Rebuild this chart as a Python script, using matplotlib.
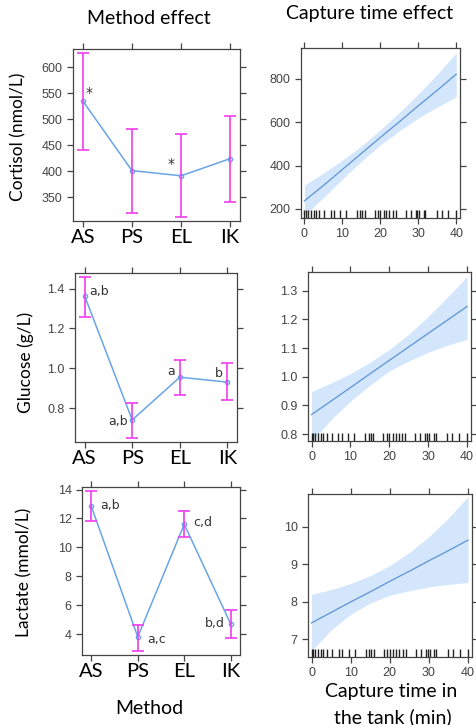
import numpy as np
import matplotlib
matplotlib.use("Agg")
import matplotlib.pyplot as plt

W, H = 476, 725

methods = ["AS", "PS", "EL", "IK"]

# method effect (estimate, upper, lower)
cort_mean = [535, 401, 391, 424]
cort_hi = [628, 481, 471, 507]
cort_lo = [441, 320, 312, 340]

gluc_mean = [1.365, 0.74, 0.955, 0.93]
gluc_hi = [1.46, 0.825, 1.04, 1.025]
gluc_lo = [1.26, 0.65, 0.865, 0.84]

lact_mean = [12.85, 3.8, 11.6, 4.7]
lact_hi = [13.9, 4.65, 12.5, 5.65]
lact_lo = [11.8, 2.8, 10.7, 3.75]

# capture time effect: fit and band read at time points
t_pts = [0, 5, 10, 15, 20, 25, 30, 35, 40]
cort_fit = [237, 308, 382, 456, 530, 602, 676, 748, 822]
cort_up = [310, 365, 425, 490, 565, 645, 730, 822, 920]
cort_dn = [172, 252, 338, 420, 495, 560, 620, 670, 718]

gluc_fit = [0.868, 0.915, 0.962, 1.01, 1.057, 1.104, 1.151, 1.198, 1.245]
gluc_up = [0.948, 0.978, 1.011, 1.05, 1.095, 1.148, 1.21, 1.278, 1.349]
gluc_dn = [0.775, 0.85, 0.915, 0.97, 1.02, 1.055, 1.085, 1.11, 1.13]

lact_fit = [7.44, 7.72, 8.0, 8.27, 8.55, 8.82, 9.1, 9.37, 9.65]
lact_up = [8.2, 8.33, 8.49, 8.7, 8.97, 9.32, 9.74, 10.24, 10.81]
lact_dn = [6.7, 7.25, 7.67, 7.97, 8.18, 8.3, 8.4, 8.47, 8.52]

# observed capture times (rug)
rug_t = [0, 0.5, 1, 1.7, 2.4, 3, 3.9, 5.2, 6.9, 7.9, 9.5, 11, 13.8, 14.7, 15.3,
         15.9, 18.5, 19.4, 20, 20.9, 21.6, 22.4, 23.3, 24.1, 26.7, 28, 29.3,
         29.7, 30.3, 31.4, 31.9, 34.9, 36.2, 37.9, 40]

fig = plt.figure(figsize=(W / 100, H / 100), dpi=100)

def box(l, r, t, b):
    return fig.add_axes([l / W, 1 - b / H, (r - l) / W, (b - t) / H])

def ftext(x, y, s, size=14, rot=0):
    fig.text(x / W, 1 - y / H, s, fontsize=size, family="Lato", rotation=rot,
             ha="center", va="center")

frame_col = "#444444"
tick_col = "#444444"
pink = "#f03cf0"
blue = "#6aa4e8"

def style(ax, yticks):
    for s in ax.spines.values():
        s.set_color(frame_col)
        s.set_linewidth(0.9)
    ax.tick_params(direction="out", length=4, width=0.9, color=frame_col,
                   top=True, right=True, labeltop=False, labelright=False)
    ax.tick_params(axis="y", labelsize=9, labelcolor=tick_col)
    ax.set_yticks(yticks)
    for lab in ax.get_yticklabels():
        lab.set_family("Liberation Sans")

def method_panel(ax, mean, hi, lo, ylim, yticks):
    x = np.arange(1, 5)
    ax.plot(x, mean, color=blue, lw=1.1, marker="o", ms=3, mfc="none", mec=blue)
    yerr = [np.array(mean) - np.array(lo), np.array(hi) - np.array(mean)]
    ax.errorbar(x, mean, yerr=yerr, fmt="none", ecolor=pink, elinewidth=1.2,
                capsize=4, capthick=1.2)
    ax.set_xlim(0.8, 4.2)
    ax.set_ylim(*ylim)
    style(ax, yticks)
    ax.set_xticks(x)
    ax.set_xticklabels(methods, fontsize=14.5, family="Lato", color="black")
    ax.tick_params(axis="x", pad=2)

def time_panel(ax, fit, up, dn, ylim, yticks):
    ax.fill_between(t_pts, dn, up, color="#d3e6fb", lw=0)
    ax.plot(t_pts, fit, color="#5d93d6", lw=0.9)
    ax.set_xlim(-0.9, 41)
    ax.set_ylim(*ylim)
    ax.vlines(rug_t, 0, 0.05, color="#222222", lw=1.0,
              transform=ax.get_xaxis_transform())
    style(ax, yticks)
    ax.set_xticks([0, 10, 20, 30, 40])
    ax.tick_params(axis="x", labelsize=9, labelcolor=tick_col)
    for lab in ax.get_xticklabels():
        lab.set_family("Liberation Sans")

ax1 = box(73, 240, 49, 221)
method_panel(ax1, cort_mean, cort_hi, cort_lo, (304, 635),
             [350, 400, 450, 500, 550, 600])
ax1.text(1.13, 550, "*", fontsize=10, color="#333333", ha="center", va="center")
ax1.text(2.8, 413, "*", fontsize=10, color="#333333", ha="center", va="center")

ax2 = box(301, 460, 48, 218)
time_panel(ax2, cort_fit, cort_up, cort_dn, (158, 943), [200, 400, 600, 800])

ax3 = box(75, 237, 273, 442)
method_panel(ax3, gluc_mean, gluc_hi, gluc_lo, (0.629, 1.479),
             [0.8, 1.0, 1.2, 1.4])
ax3.text(1.1, 1.385, "a,b", fontsize=9, color="#333333", ha="left", va="center")
ax3.text(1.92, 0.73, "a,b", fontsize=9, color="#333333", ha="right", va="center")
ax3.text(2.9, 0.985, "a", fontsize=9, color="#333333", ha="right", va="center")
ax3.text(3.9, 0.975, "b", fontsize=9, color="#333333", ha="right", va="center")

ax4 = box(308, 471, 272, 441)
time_panel(ax4, gluc_fit, gluc_up, gluc_dn, (0.776, 1.365),
           [0.8, 0.9, 1.0, 1.1, 1.2, 1.3])

ax5 = box(82, 240, 487, 655)
method_panel(ax5, lact_mean, lact_hi, lact_lo, (2.55, 14.18),
             [4, 6, 8, 10, 12, 14])
ax5.text(1.2, 12.9, "a,b", fontsize=9, color="#333333", ha="left", va="center")
ax5.text(2.2, 3.6, "a,c", fontsize=9, color="#333333", ha="left", va="center")
ax5.text(3.2, 11.7, "c,d", fontsize=9, color="#333333", ha="left", va="center")
ax5.text(3.88, 4.75, "b,d", fontsize=9, color="#333333", ha="right", va="center")

ax6 = box(308, 472, 494, 657)
time_panel(ax6, lact_fit, lact_up, lact_dn, (6.53, 10.88), [7, 8, 9, 10])

ftext(149, 18, "Method effect")
ftext(370, 14, "Capture time effect")
ftext(391, 692, "Capture time in")
ftext(393, 717, "the tank (min)")
ftext(149, 708, "Method")
ftext(18, 137, "Cortisol (nmol/L)", 12.5, 90)
ftext(26, 362, "Glucose (g/L)", 12.5, 90)
ftext(24, 572, "Lactate (mmol/L)", 12.5, 90)

fig.savefig("out.png", dpi=100)
